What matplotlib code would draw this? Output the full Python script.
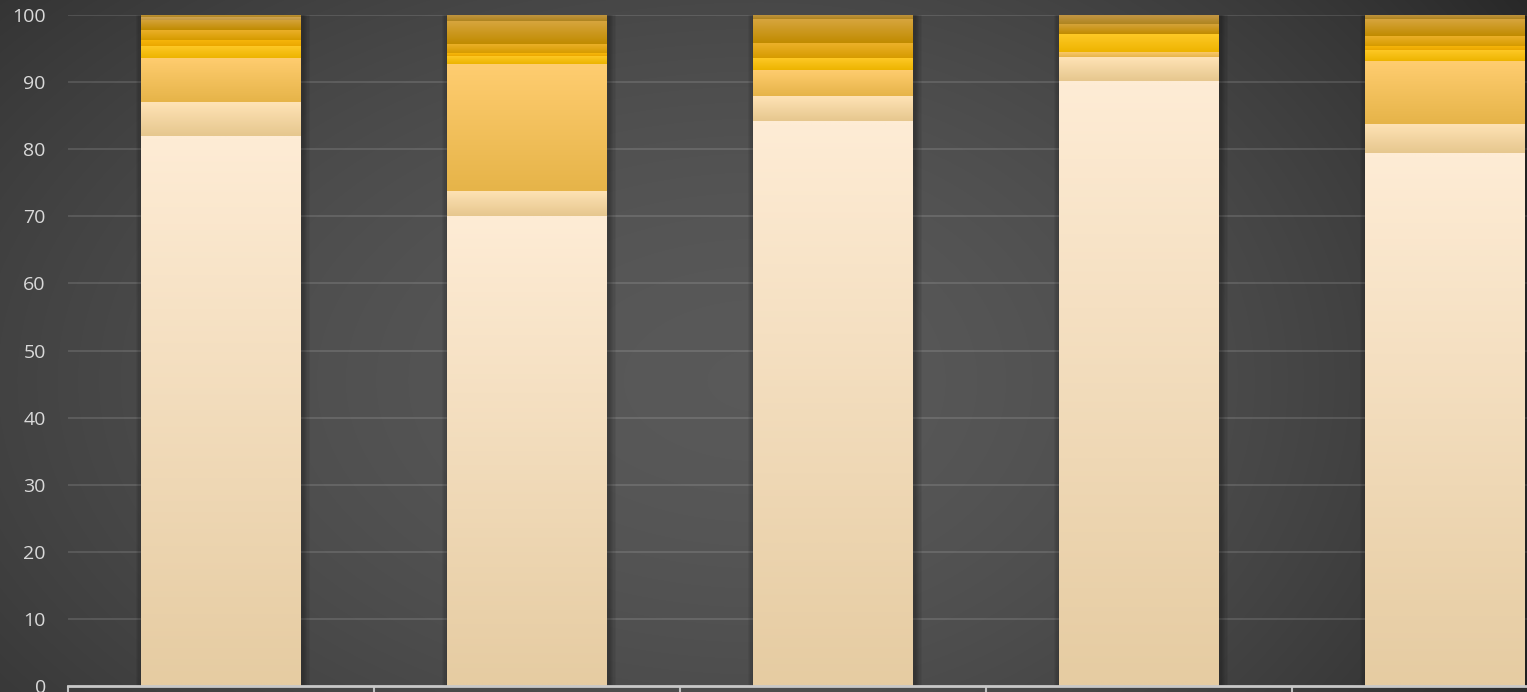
import matplotlib.pyplot as plt
import numpy as np
from matplotlib.colors import to_rgb

# data: stacked shares (bottom series first), five columns
categories = ['A', 'B', 'C', 'D', 'E']
s1 = [82.0, 70.0, 84.2, 90.2, 79.4]
s2 = [5.0, 3.8, 3.7, 3.5, 4.4]
s3 = [6.6, 18.9, 3.9, 0.8, 9.3]
s4 = [1.8, 1.2, 1.8, 2.7, 1.7]
s5 = [0.9, 0.4, 0.0, 0.0, 0.6]
s6 = [1.5, 1.4, 2.3, 0.0, 1.5]
s7 = [1.5, 3.4, 3.5, 1.5, 2.5]
s8 = [0.4, 0.0, 0.0, 0.0, 0.0]
s9 = [0.3, 0.9, 0.6, 1.3, 0.6]
series = [s1, s2, s3, s4, s5, s6, s7, s8, s9]
y_ticks = [0, 10, 20, 30, 40, 50, 60, 70, 80, 90, 100]

# gradient (top colour, bottom colour) per series
grads = [('#FEECD5', '#E6CCA2'), ('#FFE3B6', '#E6C78E'), ('#FFCD70', '#E6B449'),
         ('#FFCA28', '#EDB400'), ('#F8B80C', '#EBA700'), ('#EDB22C', '#D69B00'),
         ('#D7A53E', '#C08B00'), ('#D0A552', '#C2973F'), ('#C39744', '#AE8420')]

W, H = 1527, 692
fig = plt.figure(figsize=(W / 100, H / 100), dpi=100)

# radial dark background
bg = fig.add_axes([0, 0, 1, 1], zorder=-10)
yy, xx = np.mgrid[0:H, 0:W]
ax_r = np.where(xx < 760, 1100, 850)
r = np.sqrt(((xx - 760) / ax_r) ** 2 + ((yy - 380) / 650) ** 2)
v = 0.35 - 0.17 * np.clip(r, 0, 1.2) ** 1.7
bg.imshow(np.dstack([v, v, v]), aspect='auto', extent=[0, 1, 0, 1], origin='upper')
bg.axis('off')

ax = fig.add_axes([68 / W, 6 / H, 1530 / W, 671 / H])
ax.patch.set_alpha(0)
x = np.arange(len(categories))
width = 0.52

# soft shadow behind bars
for k in range(6):
    pad = 0.004 * (k + 1)
    ax.bar(x + 0.006, 100, width=width + 2 * pad, bottom=0, color='black',
           alpha=0.05, zorder=1, clip_on=False)

bottom = np.zeros(len(categories))
for vals, (ctop, cbot) in zip(series, grads):
    vals = np.array(vals)
    bars = ax.bar(x, vals, width=width, bottom=bottom, color=cbot,
                  linewidth=0, zorder=2)
    grad = np.linspace(0, 1, 64)[:, None]
    img = (np.array(to_rgb(ctop))[None, None, :] * (1 - grad[..., None])
           + np.array(to_rgb(cbot))[None, None, :] * grad[..., None])
    for b, h, b0 in zip(bars, vals, bottom):
        if h <= 0:
            continue
        x0 = b.get_x()
        im = ax.imshow(img, extent=[x0, x0 + width, b0, b0 + h], aspect='auto',
                       origin='upper', zorder=3, interpolation='bilinear')
        im.set_clip_path(b)
    bottom += vals

ax.set_xlim(-0.5, 4.5)
ax.set_ylim(0, 100)
ax.set_yticks(y_ticks)
ax.set_yticklabels([str(t) for t in y_ticks], fontsize=14, color='#D9D9D9',
                   family='Open Sans')
ax.tick_params(axis='y', length=0, pad=16)
ax.set_xticks(np.arange(-0.5, 5, 1.0))
ax.set_xticklabels([])
ax.tick_params(axis='x', length=7, width=1.5, color='#BFBFBF', direction='out')
ax.grid(axis='y', color='white', alpha=0.12, linewidth=1.5, zorder=0)
ax.set_axisbelow(True)
for s in ['left', 'right', 'top']:
    ax.spines[s].set_visible(False)
ax.spines['bottom'].set_color('#C8C8C8')
ax.spines['bottom'].set_linewidth(2)
ax.spines['bottom'].set_zorder(5)

fig.savefig('out.png', dpi=100)
